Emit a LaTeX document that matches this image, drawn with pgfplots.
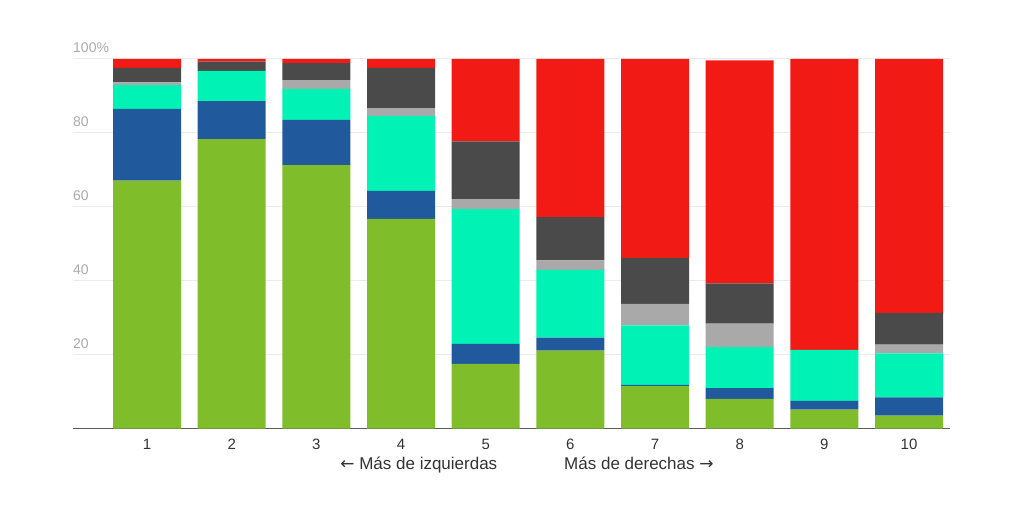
\documentclass[border=0pt]{standalone}
\usepackage{pgfplots}
\pgfplotsset{compat=1.18}
\usepackage{fontspec}
\setmainfont{Liberation Sans}
\newfontfamily\arrowfont{DejaVu Sans}
\definecolor{cgreen}{HTML}{7FBD2A}
\definecolor{cblue}{HTML}{215A9C}
\definecolor{cteal}{HTML}{00F2B4}
\definecolor{clgray}{HTML}{A9A9A9}
\definecolor{cdgray}{HTML}{4A4A4A}
\definecolor{cred}{HTML}{F21A14}
\definecolor{gridc}{HTML}{EBEBEB}
\definecolor{ylab}{HTML}{AAAAAA}
\definecolor{xlab}{HTML}{333333}
\begin{document}
\begin{tikzpicture}
\useasboundingbox (0pt,0pt) rectangle (1024pt,512pt);
\begin{axis}[
  at={(73pt,83.5pt)}, anchor=south west,
  scale only axis, width=877pt, height=369.5pt,
  xmin=0.126, xmax=10.484, ymin=0, ymax=100,
  enlargelimits=false,
  ybar stacked, bar width=68pt,
  axis line style={draw=none},
  axis x line*=bottom,
  /pgf/number format/assume math mode=true,
  xtick={1,2,3,4,5,6,7,8,9,10},
  xticklabel style={font=\fontsize{15}{17}\selectfont, text=xlab, anchor=base, yshift=-20.5pt},
  ytick={20,40,60,80,100},
  yticklabels={20,40,60,80,100\%},
  yticklabel style={font=\fontsize{14}{16}\selectfont, text=ylab, anchor=south west, inner sep=0pt, xshift=0pt, yshift=6pt},
  ymajorgrids, grid style={gridc, line width=1pt},
  major tick length=0pt,
  every axis plot/.append style={draw=none},
  clip=false,
]
\addplot[fill=cgreen] coordinates {(1,67.1) (2,78.3) (3,71.3) (4,56.7) (5,17.5) (6,21.1) (7,11.5) (8,8.0) (9,5.1) (10,3.5)};
\addplot[fill=cblue] coordinates {(1,19.4) (2,10.3) (3,12.2) (4,7.6) (5,5.4) (6,3.5) (7,0.3) (8,2.9) (9,2.4) (10,4.9)};
\addplot[fill=cteal] coordinates {(1,6.4) (2,8.2) (3,8.4) (4,20.3) (5,36.5) (6,18.3) (7,16.1) (8,11.1) (9,13.8) (10,11.9)};
\addplot[fill=clgray] coordinates {(1,0.8) (2,0) (3,2.4) (4,2.1) (5,2.7) (6,2.6) (7,5.8) (8,6.4) (9,0) (10,2.4)};
\addplot[fill=cdgray] coordinates {(1,3.9) (2,2.5) (3,4.6) (4,10.9) (5,15.6) (6,11.7) (7,12.5) (8,10.9) (9,0) (10,8.6)};
\addplot[fill=cred] coordinates {(1,2.4) (2,0.7) (3,1.1) (4,2.4) (5,22.3) (6,42.8) (7,53.8) (8,60.3) (9,78.7) (10,68.7)};
\draw[color=cdgray!90, line width=1.5pt] (axis cs:0.126,0) -- (axis cs:10.484,0);
\node[font=\fontsize{17}{19}\selectfont, text=xlab, anchor=base] at ([yshift=-41pt]axis cs:4.21,0) {{\arrowfont ←} Más de izquierdas};
\node[font=\fontsize{17}{19}\selectfont, text=xlab, anchor=base] at ([yshift=-41pt]axis cs:6.81,0) {Más de derechas {\arrowfont →}};
\end{axis}
\end{tikzpicture}
\end{document}
